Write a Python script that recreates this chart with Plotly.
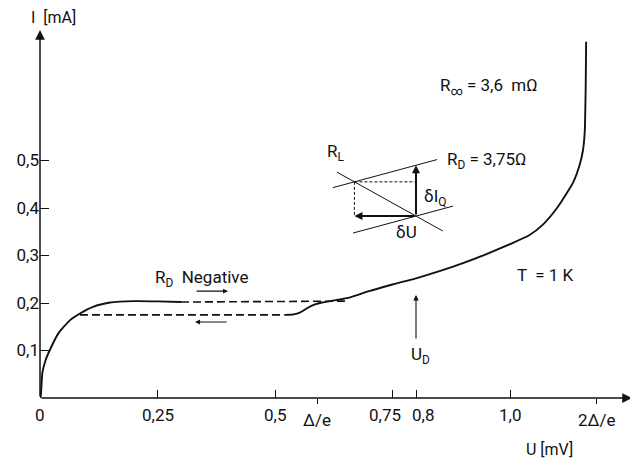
import plotly.graph_objects as go

# ---------------- data (U in mV, I in mA) ----------------
# upper branch, rising from the origin (solid)
upper_U = [0.0, 0.0015, 0.005, 0.012, 0.021, 0.039, 0.064, 0.085, 0.113, 0.149, 0.17, 0.20, 0.25, 0.30]
upper_I = [0.0, 0.003, 0.053, 0.08, 0.101, 0.136, 0.164, 0.178, 0.192, 0.201, 0.203, 0.204, 0.2035, 0.202]

# upper jump (dashed)
jump_up_U = [0.30, 0.655]
jump_up_I = [0.202, 0.204]

# lower return branch (dashed)
jump_down_U = [0.085, 0.52]
jump_down_I = [0.175, 0.175]

# main quasiparticle branch (solid)
main_U = [0.52, 0.54, 0.555, 0.57, 0.585, 0.60, 0.63, 0.66, 0.70, 0.75, 0.80, 0.85, 0.90,
          0.95, 1.0, 1.04, 1.07, 1.10, 1.12, 1.135, 1.148, 1.155, 1.159, 1.161, 1.162]
main_I = [0.175, 0.176, 0.181, 0.19, 0.197, 0.201, 0.206, 0.212, 0.225, 0.239, 0.252, 0.267, 0.284,
          0.303, 0.324, 0.342, 0.365, 0.40, 0.43, 0.455, 0.49, 0.52, 0.56, 0.65, 0.75]

# ticks
x_tick_vals = [0, 0.25, 0.5, 0.75, 0.8, 1.0]
x_tick_text = ["0", "0,25", "0,5", "0,75", "0,8", "1,0"]
gap_tick_vals = [0.59, 1.185]
gap_tick_text = ["Δ/e", "2Δ/e"]
y_tick_vals = [0.1, 0.2, 0.3, 0.4, 0.5]
y_tick_text = ["0,1", "0,2", "0,3", "0,4", "0,5"]

# inset (small-signal construction around U_D = 0.8 mV)
U_D = 0.8
I_Q = 0.383
R_D_slope = 1 / 3.75      # mA per mV
R_L_slope = -0.55         # mA per mV
dI = 0.107

# ---------------- layout constants ----------------
PAGE_OFFSET = 8           # the page body adds an 8 px margin around the figure
W, H = 638 - PAGE_OFFSET, 464 - PAGE_OFFSET
ML, MR, MT, MB = 40 - PAGE_OFFSET, 6, 30 - PAGE_OFFSET, 66
XMAX = (W - ML - MR) / 470.0
YMAX = (H - MT - MB) / 475.0
FONT = "Roboto, Liberation Sans, sans-serif"
INK = "#111111"

fig = go.Figure()
line_style = dict(color=INK, width=1.9, shape="spline", smoothing=0.5)
dash_style = dict(color=INK, width=1.6, dash="8px,4px")

fig.add_trace(go.Scatter(x=upper_U, y=upper_I, mode="lines", line=line_style, hoverinfo="skip"))
fig.add_trace(go.Scatter(x=jump_up_U, y=jump_up_I, mode="lines", line=dash_style, hoverinfo="skip"))
fig.add_trace(go.Scatter(x=jump_down_U, y=jump_down_I, mode="lines", line=dash_style, hoverinfo="skip"))
fig.add_trace(go.Scatter(x=main_U, y=main_I, mode="lines", line=line_style, hoverinfo="skip"))
# invisible trace to activate the secondary x axis
fig.add_trace(go.Scatter(x=[0], y=[0], xaxis="x2", mode="markers", marker=dict(opacity=0), hoverinfo="skip"))

annotations = []
shapes = []

def arrow(x0, y0, x1, y1, width=1.4, size=1.0, head=2):
    annotations.append(dict(x=x1, y=y1, ax=x0, ay=y0, xref="x", yref="y", axref="x", ayref="y",
                            text="", showarrow=True, arrowhead=head, arrowsize=size,
                            arrowwidth=width, arrowcolor=INK))

def label(x, y, text, size=16, xanchor="center", yanchor="middle"):
    # data coordinates converted to paper coordinates so that labels outside the axes still show
    annotations.append(dict(x=x / XMAX, y=y / YMAX, xref="paper", yref="paper", text=text,
                            showarrow=False, xanchor=xanchor, yanchor=yanchor,
                            font=dict(family=FONT, size=size, color=INK)))

def seg(x0, y0, x1, y1, width=1.0, dash="solid"):
    shapes.append(dict(type="line", x0=x0, y0=y0, x1=x1, y1=y1, xref="x", yref="y",
                       line=dict(color=INK, width=width, dash=dash)))

# axes with arrowheads
arrow(0, 0, XMAX, 0, width=1.5, size=1.3)
arrow(0, 0, 0, YMAX, width=1.5, size=1.3)

# x tick labels (placed individually so that 0,75 / 0,8 do not collide)
for v, t in zip(x_tick_vals, x_tick_text):
    if t == "0,75":
        label(v + 0.022, -0.0358, t, size=17, xanchor="right")
    elif t == "0,8":
        label(v - 0.012, -0.0358, t, size=17, xanchor="left")
    else:
        label(v, -0.0358, t, size=17)
for v, t in zip(gap_tick_vals, gap_tick_text):
    label(v, -0.0463, t, size=17)

# axis titles
label(0.028, 0.802, "I  [mA]", size=16)
label(1.085, -0.109, "U [mV]", size=16)

# R_D negative and hysteresis arrows
label(0.24, 0.251, "R<sub>D</sub>  Negative", size=17, xanchor="left")
arrow(0.33, 0.225, 0.40, 0.225, width=1.1, size=0.9)
arrow(0.40, 0.160, 0.33, 0.160, width=1.1, size=0.9)

# inset construction
def rd_line(x, offset):
    return I_Q + offset + R_D_slope * (x - U_D)

def rl_line(x):
    return I_Q + R_L_slope * (x - U_D)

x_p1 = U_D - dI / (R_D_slope - R_L_slope)
y_p1 = rl_line(x_p1)
seg(0.623, rd_line(0.623, dI), 0.845, rd_line(0.845, dI), width=1.0)
seg(0.666, rd_line(0.666, 0), 0.879, rd_line(0.879, 0), width=1.0)
seg(0.632, rl_line(0.632), 0.857, rl_line(0.857), width=1.0)
seg(x_p1, y_p1, U_D, y_p1, width=1.0, dash="3px,2px")
seg(x_p1, y_p1, x_p1, I_Q, width=1.0, dash="3px,2px")
arrow(U_D, I_Q, x_p1, I_Q, width=2.0, size=0.8)
arrow(U_D, I_Q, U_D, I_Q + dI, width=2.0, size=0.8)
label(0.628, 0.516, "R<sub>L</sub>", size=17)
label(0.862, 0.499, "R<sub>D</sub> = 3,75Ω", size=17, xanchor="left")
label(0.813, 0.423, "δI<sub>Q</sub>", size=17, xanchor="left")
label(0.779, 0.349, "δU", size=17)

# other labels
label(0.847, 0.655, "R<sub>∞</sub> = 3,6  mΩ", size=17, xanchor="left")
label(1.011, 0.259, "T  = 1 K", size=17, xanchor="left")
arrow(U_D, 0.122, U_D, 0.217, width=1.1, size=1.0)
label(0.809, 0.0905, "U<sub>D</sub>", size=17)

tick_font = dict(family=FONT, size=17, color=INK)
fig.update_layout(
    width=W, height=H,
    margin=dict(l=ML, r=MR, t=MT, b=MB),
    paper_bgcolor="white", plot_bgcolor="white",
    showlegend=False,
    annotations=annotations, shapes=shapes,
    xaxis=dict(range=[0, XMAX], showgrid=False, zeroline=False, showline=False,
               tickvals=x_tick_vals, showticklabels=False, ticks="inside", ticklen=8,
               tickwidth=1.2, tickcolor=INK, fixedrange=True, automargin=False),
    xaxis2=dict(range=[0, XMAX], overlaying="x", anchor="y", side="bottom",
                showgrid=False, zeroline=False, showline=False,
                tickvals=gap_tick_vals, showticklabels=False, ticks="outside", ticklen=5,
                tickwidth=1.2, tickcolor=INK, fixedrange=True, automargin=False),
    yaxis=dict(range=[0, YMAX], showgrid=False, zeroline=False, showline=False,
               tickvals=y_tick_vals, ticktext=y_tick_text, ticks="inside", ticklen=9,
               tickwidth=1.2, tickcolor=INK, tickfont=tick_font, fixedrange=True,
               automargin=False),
)

fig.write_html("out.html")
